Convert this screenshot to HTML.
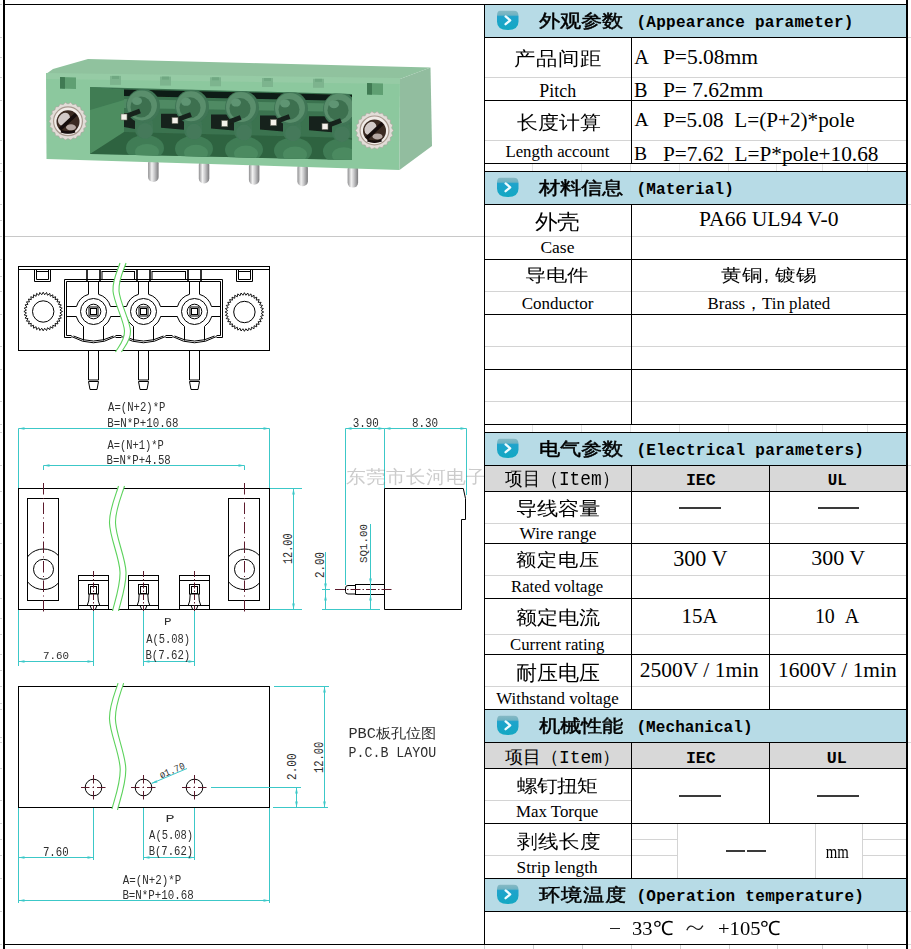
<!DOCTYPE html>
<html><head><meta charset="utf-8"><title>Terminal block spec</title>
<style>
html,body{margin:0;padding:0;background:#fff;}
body{width:911px;height:949px;position:relative;overflow:hidden;font-family:"Liberation Sans",sans-serif;}
</style></head><body>
<svg style="position:absolute;left:0;top:0" width="484" height="236" viewBox="0 0 484 236"><defs><linearGradient id="pg" x1="0" y1="0" x2="1" y2="0">
<stop offset="0" stop-color="#8e8e90"/><stop offset="0.35" stop-color="#f2f2f2"/><stop offset="0.6" stop-color="#c8c8ca"/><stop offset="1" stop-color="#7a7a7c"/></linearGradient>
<clipPath id="rc"><polygon points="90,87 352,94 352,160 90,154"/></clipPath>
<filter id="soft" x="-5%" y="-5%" width="110%" height="110%"><feGaussianBlur stdDeviation="0.7"/></filter></defs><g filter="url(#soft)"><rect x="148.1" y="158.3" width="10.5" height="23.7" rx="5" fill="url(#pg)"/>
<rect x="198.8" y="159.9" width="10.5" height="23.5" rx="5" fill="url(#pg)"/>
<rect x="248.9" y="161.5" width="10.5" height="23.3" rx="5" fill="url(#pg)"/>
<rect x="297.4" y="163.0" width="10.5" height="23.2" rx="5" fill="url(#pg)"/>
<rect x="347.6" y="164.5" width="10.5" height="23.1" rx="5" fill="url(#pg)"/>
<polygon points="46.0,74.0 53.0,69.0 88.0,59.0 430.5,67.5 400.0,79.0" fill="#90c29e"/>
<polygon points="46.0,74.0 400.0,79.0 399.5,170.0 46.5,159.0" fill="#8cc89e"/>
<polygon points="400.0,79.0 430.5,67.5 432.0,146.0 399.5,170.0" fill="#92bd9f"/>
<polygon points="46.0,73.0 400.0,78.0 400.0,84.0 46.0,79.0" fill="#96cba5"/>
<polygon points="60.0,77.0 76.0,77.5 76.0,89.0 60.0,88.5" fill="#5e9f72"/>
<polygon points="60.0,77.0 65.0,77.2 65.0,88.7 60.0,88.5" fill="#3f7a52"/>
<polygon points="367.0,83.0 383.0,83.5 383.0,95.0 367.0,94.5" fill="#5e9f72"/>
<polygon points="367.0,83.0 372.0,83.2 372.0,94.7 367.0,94.5" fill="#3f7a52"/>
<polygon points="110.0,75.9 121.0,75.9 121.0,84.9 110.0,84.9" fill="#7db48e"/>
<polygon points="112.0,75.9 119.0,75.9 119.0,78.9 112.0,78.9" fill="#6fa882"/>
<polygon points="160.0,76.6 171.0,76.6 171.0,85.6 160.0,85.6" fill="#7db48e"/>
<polygon points="162.0,76.6 169.0,76.6 169.0,79.6 162.0,79.6" fill="#6fa882"/>
<polygon points="210.0,77.3 221.0,77.3 221.0,86.3 210.0,86.3" fill="#7db48e"/>
<polygon points="212.0,77.3 219.0,77.3 219.0,80.3 212.0,80.3" fill="#6fa882"/>
<polygon points="262.0,78.0 273.0,78.0 273.0,87.0 262.0,87.0" fill="#7db48e"/>
<polygon points="264.0,78.0 271.0,78.0 271.0,81.0 264.0,81.0" fill="#6fa882"/>
<polygon points="313.0,78.8 324.0,78.8 324.0,87.8 313.0,87.8" fill="#7db48e"/>
<polygon points="315.0,78.8 322.0,78.8 322.0,81.8 315.0,81.8" fill="#6fa882"/>
<polygon points="90.0,87.0 352.0,94.0 352.0,160.0 90.0,154.0" fill="#3a7350"/>
<g clip-path="url(#rc)">
<polygon points="90.0,87.0 124.0,90.0 124.0,134.0 90.0,154.0" fill="#4d8d60"/>
<polygon points="90.0,87.0 124.0,90.0 124.0,100.0 90.0,110.0" fill="#3f7c53"/>
<polygon points="124.0,89.5 352.0,95.0 352.0,101.0 124.0,96.0" fill="#0f1a12"/>
<polygon points="124.0,99.0 352.0,104.0 352.0,112.0 124.0,108.0" fill="#4f8a63"/>
<polygon points="124.0,113.0 135.0,113.0 135.0,129.0 124.0,127.0" fill="#14231a"/>
<polygon points="161.0,113.8 184.0,113.8 184.0,129.8 161.0,127.8" fill="#14231a"/>
<polygon points="211.0,114.6 234.0,114.6 234.0,130.6 211.0,128.6" fill="#14231a"/>
<polygon points="260.0,115.4 283.0,115.4 283.0,131.4 260.0,129.4" fill="#14231a"/>
<polygon points="309.0,116.2 332.0,116.2 332.0,132.2 309.0,130.2" fill="#14231a"/>
<path d="M90 154 L124 132 L352 138 L352 160 Z" fill="#2f6340"/>
<ellipse cx="145.0" cy="148.0" rx="19" ry="13" fill="#3f7c55"/>
<ellipse cx="147.0" cy="152.0" rx="12" ry="8" fill="#4b8a60"/>
<ellipse cx="194.0" cy="148.8" rx="19" ry="13" fill="#3f7c55"/>
<ellipse cx="196.0" cy="152.8" rx="12" ry="8" fill="#4b8a60"/>
<ellipse cx="244.0" cy="149.6" rx="19" ry="13" fill="#3f7c55"/>
<ellipse cx="246.0" cy="153.6" rx="12" ry="8" fill="#4b8a60"/>
<ellipse cx="293.0" cy="150.4" rx="19" ry="13" fill="#3f7c55"/>
<ellipse cx="295.0" cy="154.4" rx="12" ry="8" fill="#4b8a60"/>
<ellipse cx="342.0" cy="151.2" rx="19" ry="13" fill="#3f7c55"/>
<ellipse cx="344.0" cy="155.2" rx="12" ry="8" fill="#4b8a60"/>
<rect x="135.0" y="116.0" width="18" height="22" rx="8" fill="#3f7654"/>
<ellipse cx="143.0" cy="106.0" rx="17" ry="17" fill="#3f7455"/>
<ellipse cx="142.0" cy="105.5" rx="15" ry="15" fill="#5a8e6c"/>
<ellipse cx="141.0" cy="107.0" rx="10.5" ry="10.5" fill="#3c6f50"/>
<ellipse cx="137.0" cy="101.0" rx="5" ry="4" fill="#5f9573"/>
<ellipse cx="145.0" cy="131.0" rx="8" ry="8" fill="#44795a"/>
<rect x="184.0" y="116.8" width="18" height="22" rx="8" fill="#3f7654"/>
<ellipse cx="192.0" cy="106.8" rx="17" ry="17" fill="#3f7455"/>
<ellipse cx="191.0" cy="106.3" rx="15" ry="15" fill="#5a8e6c"/>
<ellipse cx="190.0" cy="107.8" rx="10.5" ry="10.5" fill="#3c6f50"/>
<ellipse cx="186.0" cy="101.8" rx="5" ry="4" fill="#5f9573"/>
<ellipse cx="194.0" cy="131.8" rx="8" ry="8" fill="#44795a"/>
<rect x="234.0" y="117.6" width="18" height="22" rx="8" fill="#3f7654"/>
<ellipse cx="242.0" cy="107.6" rx="17" ry="17" fill="#3f7455"/>
<ellipse cx="241.0" cy="107.1" rx="15" ry="15" fill="#5a8e6c"/>
<ellipse cx="240.0" cy="108.6" rx="10.5" ry="10.5" fill="#3c6f50"/>
<ellipse cx="236.0" cy="102.6" rx="5" ry="4" fill="#5f9573"/>
<ellipse cx="244.0" cy="132.6" rx="8" ry="8" fill="#44795a"/>
<rect x="283.0" y="118.4" width="18" height="22" rx="8" fill="#3f7654"/>
<ellipse cx="291.0" cy="108.4" rx="17" ry="17" fill="#3f7455"/>
<ellipse cx="290.0" cy="107.9" rx="15" ry="15" fill="#5a8e6c"/>
<ellipse cx="289.0" cy="109.4" rx="10.5" ry="10.5" fill="#3c6f50"/>
<ellipse cx="285.0" cy="103.4" rx="5" ry="4" fill="#5f9573"/>
<ellipse cx="293.0" cy="133.4" rx="8" ry="8" fill="#44795a"/>
<rect x="332.0" y="119.2" width="18" height="22" rx="8" fill="#3f7654"/>
<ellipse cx="340.0" cy="109.2" rx="17" ry="17" fill="#3f7455"/>
<ellipse cx="339.0" cy="108.7" rx="15" ry="15" fill="#5a8e6c"/>
<ellipse cx="338.0" cy="110.2" rx="10.5" ry="10.5" fill="#3c6f50"/>
<ellipse cx="334.0" cy="104.2" rx="5" ry="4" fill="#5f9573"/>
<ellipse cx="342.0" cy="134.2" rx="8" ry="8" fill="#44795a"/>
<line x1="124.0" y1="117.0" x2="140.0" y2="111.0" stroke="#16221a" stroke-width="5"/>
<rect x="121.0" y="114.0" width="6" height="6" fill="#f4f1ea" stroke="#6b6b60" stroke-width="0.6"/>
<line x1="175.0" y1="120.5" x2="191.0" y2="114.5" stroke="#16221a" stroke-width="5"/>
<rect x="172.0" y="117.5" width="6" height="6" fill="#f4f1ea" stroke="#6b6b60" stroke-width="0.6"/>
<line x1="224.7" y1="123.5" x2="240.7" y2="117.5" stroke="#16221a" stroke-width="5"/>
<rect x="221.7" y="120.5" width="6" height="6" fill="#f4f1ea" stroke="#6b6b60" stroke-width="0.6"/>
<line x1="273.5" y1="122.5" x2="289.5" y2="116.5" stroke="#16221a" stroke-width="5"/>
<rect x="270.5" y="119.5" width="6" height="6" fill="#f4f1ea" stroke="#6b6b60" stroke-width="0.6"/>
<line x1="325.0" y1="126.5" x2="341.0" y2="120.5" stroke="#16221a" stroke-width="5"/>
<rect x="322.0" y="123.5" width="6" height="6" fill="#f4f1ea" stroke="#6b6b60" stroke-width="0.6"/>
</g>
<polygon points="87.0,121.3 85.1,123.8 86.2,126.7 83.7,128.5 84.0,131.6 81.1,132.6 80.4,135.7 77.4,135.9 75.9,138.6 72.9,137.9 70.7,140.1 68.0,138.6 65.3,140.1 63.1,137.9 60.1,138.6 58.6,135.9 55.6,135.7 54.9,132.6 52.0,131.6 52.3,128.5 49.8,126.7 50.9,123.8 49.0,121.3 50.9,118.8 49.8,115.9 52.3,114.1 52.0,111.0 54.9,110.0 55.6,106.9 58.6,106.7 60.1,104.0 63.1,104.7 65.3,102.5 68.0,104.0 70.7,102.5 72.9,104.7 75.9,104.0 77.4,106.7 80.4,106.9 81.1,110.0 84.0,111.0 83.7,114.1 86.2,115.9 85.1,118.8" fill="#e2ddd8" stroke="#a9a39c" stroke-width="0.6"/>
<circle cx="68.0" cy="121.3" r="15" fill="#a8998f"/>
<circle cx="68.0" cy="121.3" r="13.8" fill="#f1ece8"/>
<circle cx="68.0" cy="121.8" r="11.5" fill="#3b2b22"/>
<ellipse cx="64.0" cy="119.3" rx="5.5" ry="7" fill="#d2cac8" transform="rotate(35 64.0 119.3)"/>
<ellipse cx="71.0" cy="127.3" rx="5" ry="3" fill="#b5a7a2"/>
<line x1="60.0" y1="129.3" x2="76.0" y2="114.3" stroke="#150d09" stroke-width="3.5"/>
<path d="M61.0 131.3 Q68.0 133.8 75.0 131.3" stroke="#120a08" stroke-width="2.5" fill="none"/>
<polygon points="393.5,130.4 391.6,132.9 392.7,135.8 390.2,137.6 390.5,140.7 387.6,141.7 386.9,144.8 383.9,145.0 382.4,147.7 379.4,147.0 377.2,149.2 374.5,147.7 371.8,149.2 369.6,147.0 366.6,147.7 365.1,145.0 362.1,144.8 361.4,141.7 358.5,140.7 358.8,137.6 356.3,135.8 357.4,132.9 355.5,130.4 357.4,127.9 356.3,125.0 358.8,123.2 358.5,120.1 361.4,119.1 362.1,116.0 365.1,115.8 366.6,113.1 369.6,113.8 371.8,111.6 374.5,113.1 377.2,111.6 379.4,113.8 382.4,113.1 383.9,115.8 386.9,116.0 387.6,119.1 390.5,120.1 390.2,123.2 392.7,125.0 391.6,127.9" fill="#e2ddd8" stroke="#a9a39c" stroke-width="0.6"/>
<circle cx="374.5" cy="130.4" r="15" fill="#a8998f"/>
<circle cx="374.5" cy="130.4" r="13.8" fill="#f1ece8"/>
<circle cx="374.5" cy="130.9" r="11.5" fill="#3b2b22"/>
<ellipse cx="370.5" cy="128.4" rx="5.5" ry="7" fill="#d2cac8" transform="rotate(35 370.5 128.4)"/>
<ellipse cx="377.5" cy="136.4" rx="5" ry="3" fill="#b5a7a2"/>
<line x1="366.5" y1="138.4" x2="382.5" y2="123.4" stroke="#150d09" stroke-width="3.5"/>
<path d="M367.5 140.4 Q374.5 142.9 381.5 140.4" stroke="#120a08" stroke-width="2.5" fill="none"/></g></svg><svg style="position:absolute;left:0;top:0" width="484" height="949" viewBox="0 0 484 949">
<rect x="18.5" y="266.5" width="251" height="84" stroke="#000" stroke-width="1" fill="none"/>
<line x1="18.5" y1="269.5" x2="269.5" y2="269.5" stroke="#000" stroke-width="1"/>
<path d="M34.5 269.5 V281.5 H50.5 V269.5" stroke="#000" stroke-width="1" fill="none"/>
<path d="M36.5 269.5 V279.5 H48.5 V269.5" stroke="#000" stroke-width="1" fill="none"/>
<line x1="36.5" y1="271.5" x2="48.5" y2="271.5" stroke="#000" stroke-width="1"/>
<path d="M236.5 269.5 V281.5 H252.5 V269.5" stroke="#000" stroke-width="1" fill="none"/>
<path d="M238.5 269.5 V279.5 H250.5 V269.5" stroke="#000" stroke-width="1" fill="none"/>
<line x1="238.5" y1="271.5" x2="250.5" y2="271.5" stroke="#000" stroke-width="1"/>
<path d="M64.5 337.5 V279.5 H222.5 V337.5" stroke="#000" stroke-width="1" fill="none"/>
<path d="M66.5 335.5 V281.5 H220.5 V335.5" stroke="#000" stroke-width="1" fill="none"/>
<line x1="64.5" y1="337.5" x2="71.5" y2="337.5" stroke="#000" stroke-width="1"/>
<line x1="66.5" y1="335.5" x2="71.5" y2="335.5" stroke="#000" stroke-width="1"/>
<line x1="115.5" y1="337.5" x2="121.5" y2="337.5" stroke="#000" stroke-width="1"/>
<line x1="115.5" y1="335.5" x2="121.5" y2="335.5" stroke="#000" stroke-width="1"/>
<line x1="165.5" y1="337.5" x2="172.5" y2="337.5" stroke="#000" stroke-width="1"/>
<line x1="165.5" y1="335.5" x2="172.5" y2="335.5" stroke="#000" stroke-width="1"/>
<line x1="216.5" y1="337.5" x2="222.5" y2="337.5" stroke="#000" stroke-width="1"/>
<line x1="216.5" y1="335.5" x2="220.5" y2="335.5" stroke="#000" stroke-width="1"/>
<rect x="102.0" y="271.5" width="32.5" height="8" stroke="#000" stroke-width="1" fill="none"/>
<rect x="152.0" y="271.5" width="33.5" height="8" stroke="#000" stroke-width="1" fill="none"/>
<line x1="87.0" y1="269.5" x2="87.0" y2="281" stroke="#000" stroke-width="1.6"/>
<line x1="100.0" y1="269.5" x2="100.0" y2="281" stroke="#000" stroke-width="1.6"/>
<line x1="88.5" y1="282" x2="88.5" y2="294.3" stroke="#000" stroke-width="1"/>
<line x1="98.5" y1="282" x2="98.5" y2="294.3" stroke="#000" stroke-width="1"/>
<path d="M88.50 294.3 A18 18 0 0 0 76.50 306.5" stroke="#000" stroke-width="1" fill="none"/>
<path d="M98.50 294.3 A18 18 0 0 1 110.50 306.5" stroke="#000" stroke-width="1" fill="none"/>
<path d="M76.20 316.5 A18 18 0 0 0 83.50 326.4" stroke="#000" stroke-width="1" fill="none"/>
<path d="M110.80 316.5 A18 18 0 0 1 103.50 326.4" stroke="#000" stroke-width="1" fill="none"/>
<line x1="83.5" y1="326.4" x2="83.5" y2="340.5" stroke="#000" stroke-width="1"/>
<line x1="103.5" y1="326.4" x2="103.5" y2="340.5" stroke="#000" stroke-width="1"/>
<circle cx="93.5" cy="311.5" r="13" stroke="#000" stroke-width="1" fill="none"/>
<circle cx="93.5" cy="311.5" r="7.3" stroke="#000" stroke-width="1" fill="none"/>
<rect x="89.0" y="307.0" width="9" height="9" stroke="#000" stroke-width="1" fill="none"/>
<rect x="90.5" y="308.5" width="6" height="6" stroke="#000" stroke-width="1" fill="none"/>
<path d="M73.50 336 Q93.50 346 113.50 336" stroke="#000" stroke-width="1" fill="none"/>
<path d="M71.50 336.5 Q93.50 349 115.50 336.5" stroke="#000" stroke-width="1" fill="none"/>
<line x1="137.0" y1="269.5" x2="137.0" y2="281" stroke="#000" stroke-width="1.6"/>
<line x1="150.0" y1="269.5" x2="150.0" y2="281" stroke="#000" stroke-width="1.6"/>
<line x1="138.5" y1="282" x2="138.5" y2="294.3" stroke="#000" stroke-width="1"/>
<line x1="148.5" y1="282" x2="148.5" y2="294.3" stroke="#000" stroke-width="1"/>
<path d="M138.50 294.3 A18 18 0 0 0 126.50 306.5" stroke="#000" stroke-width="1" fill="none"/>
<path d="M148.50 294.3 A18 18 0 0 1 160.50 306.5" stroke="#000" stroke-width="1" fill="none"/>
<path d="M126.20 316.5 A18 18 0 0 0 133.50 326.4" stroke="#000" stroke-width="1" fill="none"/>
<path d="M160.80 316.5 A18 18 0 0 1 153.50 326.4" stroke="#000" stroke-width="1" fill="none"/>
<line x1="133.5" y1="326.4" x2="133.5" y2="340.5" stroke="#000" stroke-width="1"/>
<line x1="153.5" y1="326.4" x2="153.5" y2="340.5" stroke="#000" stroke-width="1"/>
<circle cx="143.5" cy="311.5" r="13" stroke="#000" stroke-width="1" fill="none"/>
<circle cx="143.5" cy="311.5" r="7.3" stroke="#000" stroke-width="1" fill="none"/>
<rect x="139.0" y="307.0" width="9" height="9" stroke="#000" stroke-width="1" fill="none"/>
<rect x="140.5" y="308.5" width="6" height="6" stroke="#000" stroke-width="1" fill="none"/>
<path d="M123.50 336 Q143.50 346 163.50 336" stroke="#000" stroke-width="1" fill="none"/>
<path d="M121.50 336.5 Q143.50 349 165.50 336.5" stroke="#000" stroke-width="1" fill="none"/>
<line x1="188.0" y1="269.5" x2="188.0" y2="281" stroke="#000" stroke-width="1.6"/>
<line x1="201.0" y1="269.5" x2="201.0" y2="281" stroke="#000" stroke-width="1.6"/>
<line x1="189.5" y1="282" x2="189.5" y2="294.3" stroke="#000" stroke-width="1"/>
<line x1="199.5" y1="282" x2="199.5" y2="294.3" stroke="#000" stroke-width="1"/>
<path d="M189.50 294.3 A18 18 0 0 0 177.50 306.5" stroke="#000" stroke-width="1" fill="none"/>
<path d="M199.50 294.3 A18 18 0 0 1 211.50 306.5" stroke="#000" stroke-width="1" fill="none"/>
<path d="M177.20 316.5 A18 18 0 0 0 184.50 326.4" stroke="#000" stroke-width="1" fill="none"/>
<path d="M211.80 316.5 A18 18 0 0 1 204.50 326.4" stroke="#000" stroke-width="1" fill="none"/>
<line x1="184.5" y1="326.4" x2="184.5" y2="340.5" stroke="#000" stroke-width="1"/>
<line x1="204.5" y1="326.4" x2="204.5" y2="340.5" stroke="#000" stroke-width="1"/>
<circle cx="194.5" cy="311.5" r="13" stroke="#000" stroke-width="1" fill="none"/>
<circle cx="194.5" cy="311.5" r="7.3" stroke="#000" stroke-width="1" fill="none"/>
<rect x="190.0" y="307.0" width="9" height="9" stroke="#000" stroke-width="1" fill="none"/>
<rect x="191.5" y="308.5" width="6" height="6" stroke="#000" stroke-width="1" fill="none"/>
<path d="M174.50 336 Q194.50 346 214.50 336" stroke="#000" stroke-width="1" fill="none"/>
<path d="M172.50 336.5 Q194.50 349 216.50 336.5" stroke="#000" stroke-width="1" fill="none"/>
<line x1="66.5" y1="306.5" x2="76.5" y2="306.5" stroke="#000" stroke-width="1"/>
<line x1="66.5" y1="316.5" x2="76.5" y2="316.5" stroke="#000" stroke-width="1"/>
<line x1="110.5" y1="306.5" x2="126.5" y2="306.5" stroke="#000" stroke-width="1"/>
<line x1="110.5" y1="316.5" x2="126.5" y2="316.5" stroke="#000" stroke-width="1"/>
<line x1="160.5" y1="306.5" x2="177.5" y2="306.5" stroke="#000" stroke-width="1"/>
<line x1="160.5" y1="316.5" x2="177.5" y2="316.5" stroke="#000" stroke-width="1"/>
<line x1="211.5" y1="306.5" x2="220.5" y2="306.5" stroke="#000" stroke-width="1"/>
<line x1="211.5" y1="316.5" x2="220.5" y2="316.5" stroke="#000" stroke-width="1"/>
<polygon points="62.50,311.50 59.94,312.96 62.21,314.85 59.43,315.85 61.34,318.10 58.43,318.60 59.91,321.15 56.96,321.14 57.98,323.91 55.08,323.38 55.61,326.28 52.84,325.26 52.85,328.21 50.30,326.73 49.80,329.64 47.55,327.73 46.55,330.51 44.66,328.24 43.20,330.80 41.74,328.24 39.85,330.51 38.85,327.73 36.60,329.64 36.10,326.73 33.55,328.21 33.56,325.26 30.79,326.28 31.32,323.38 28.42,323.91 29.44,321.14 26.49,321.15 27.97,318.60 25.06,318.10 26.97,315.85 24.19,314.85 26.46,312.96 23.90,311.50 26.46,310.04 24.19,308.15 26.97,307.15 25.06,304.90 27.97,304.40 26.49,301.85 29.44,301.86 28.42,299.09 31.32,299.62 30.79,296.72 33.56,297.74 33.55,294.79 36.10,296.27 36.60,293.36 38.85,295.27 39.85,292.49 41.74,294.76 43.20,292.20 44.66,294.76 46.55,292.49 47.55,295.27 49.80,293.36 50.30,296.27 52.85,294.79 52.84,297.74 55.61,296.72 55.08,299.62 57.98,299.09 56.96,301.86 59.91,301.85 58.43,304.40 61.34,304.90 59.43,307.15 62.21,308.15 59.94,310.04" fill="none" stroke="#000" stroke-width="0.9"/>
<circle cx="43.2" cy="311.5" r="10.7" stroke="#000" stroke-width="1" fill="none"/>
<polygon points="263.70,312.00 261.14,313.46 263.41,315.35 260.63,316.35 262.54,318.60 259.63,319.10 261.11,321.65 258.16,321.64 259.18,324.41 256.28,323.88 256.81,326.78 254.04,325.76 254.05,328.71 251.50,327.23 251.00,330.14 248.75,328.23 247.75,331.01 245.86,328.74 244.40,331.30 242.94,328.74 241.05,331.01 240.05,328.23 237.80,330.14 237.30,327.23 234.75,328.71 234.76,325.76 231.99,326.78 232.52,323.88 229.62,324.41 230.64,321.64 227.69,321.65 229.17,319.10 226.26,318.60 228.17,316.35 225.39,315.35 227.66,313.46 225.10,312.00 227.66,310.54 225.39,308.65 228.17,307.65 226.26,305.40 229.17,304.90 227.69,302.35 230.64,302.36 229.62,299.59 232.52,300.12 231.99,297.22 234.76,298.24 234.75,295.29 237.30,296.77 237.80,293.86 240.05,295.77 241.05,292.99 242.94,295.26 244.40,292.70 245.86,295.26 247.75,292.99 248.75,295.77 251.00,293.86 251.50,296.77 254.05,295.29 254.04,298.24 256.81,297.22 256.28,300.12 259.18,299.59 258.16,302.36 261.11,302.35 259.63,304.90 262.54,305.40 260.63,307.65 263.41,308.65 261.14,310.54" fill="none" stroke="#000" stroke-width="0.9"/>
<circle cx="244.4" cy="312" r="10.7" stroke="#000" stroke-width="1" fill="none"/>
<path d="M88.5 350.5 V380 H98.5 V350.5" stroke="#000" stroke-width="1" fill="none"/>
<path d="M88.5 381.5 L90.0 389.5 H97.0 L98.5 381.5 Z" stroke="#000" stroke-width="1" fill="none"/>
<path d="M138.5 350.5 V380 H148.5 V350.5" stroke="#000" stroke-width="1" fill="none"/>
<path d="M138.5 381.5 L140.0 389.5 H147.0 L148.5 381.5 Z" stroke="#000" stroke-width="1" fill="none"/>
<path d="M189.5 350.5 V380 H199.5 V350.5" stroke="#000" stroke-width="1" fill="none"/>
<path d="M189.5 381.5 L191.0 389.5 H198.0 L199.5 381.5 Z" stroke="#000" stroke-width="1" fill="none"/>
<line x1="18.5" y1="428.5" x2="269.5" y2="428.5" stroke="#3cc8c8" stroke-width="1"/>
<polygon points="18.5,428.5 24.5,427.2 24.5,429.8" fill="#3cc8c8"/>
<polygon points="269.5,428.5 263.5,427.2 263.5,429.8" fill="#3cc8c8"/>
<line x1="18.5" y1="428.5" x2="18.5" y2="488" stroke="#3cc8c8" stroke-width="1"/>
<line x1="269.5" y1="428.5" x2="269.5" y2="488" stroke="#3cc8c8" stroke-width="1"/>
<line x1="43.5" y1="465.5" x2="244.5" y2="465.5" stroke="#3cc8c8" stroke-width="1"/>
<polygon points="43.5,465.5 49.5,464.2 49.5,466.8" fill="#3cc8c8"/>
<polygon points="244.5,465.5 238.5,464.2 238.5,466.8" fill="#3cc8c8"/>
<line x1="43.5" y1="465.5" x2="43.5" y2="470" stroke="#3cc8c8" stroke-width="1"/>
<line x1="244.5" y1="465.5" x2="244.5" y2="470" stroke="#3cc8c8" stroke-width="1"/>
<rect x="18.5" y="488.5" width="251" height="121" stroke="#000" stroke-width="1" fill="none"/>
<rect x="27.5" y="498.5" width="31" height="102" stroke="#000" stroke-width="1" fill="none"/>
<clipPath id="cl27"><rect x="27.5" y="498" width="31" height="103"/></clipPath>
<circle cx="43.5" cy="569.3" r="20.3" fill="none" stroke="#000" clip-path="url(#cl27)"/>
<circle cx="43.5" cy="569.3" r="10" stroke="#000" stroke-width="1" fill="none"/>
<rect x="228.5" y="498.5" width="31" height="102" stroke="#000" stroke-width="1" fill="none"/>
<clipPath id="cl228"><rect x="228.5" y="498" width="31" height="103"/></clipPath>
<circle cx="244.5" cy="569.3" r="20.3" fill="none" stroke="#000" clip-path="url(#cl228)"/>
<circle cx="244.5" cy="569.3" r="10" stroke="#000" stroke-width="1" fill="none"/>
<rect x="78.5" y="575.5" width="30" height="34" stroke="#000" stroke-width="1" fill="none"/>
<line x1="78.5" y1="580.5" x2="108.5" y2="580.5" stroke="#000" stroke-width="1"/>
<line x1="78.5" y1="605.5" x2="108.5" y2="605.5" stroke="#000" stroke-width="1"/>
<rect x="88.5" y="584.5" width="10" height="9.5" stroke="#000" stroke-width="1" fill="none"/>
<rect x="90.5" y="586.5" width="6" height="7" stroke="#000" stroke-width="1" fill="none"/>
<path d="M89.2 594 L88.7 601 L87.2 605.5" stroke="#000" stroke-width="1" fill="none"/>
<path d="M97.8 594 L98.3 601 L99.8 605.5" stroke="#000" stroke-width="1" fill="none"/>
<path d="M90.0 605.5 L91.5 609 M97.0 605.5 L95.5 609" stroke="#000" stroke-width="1" fill="none"/>
<rect x="128.5" y="575.5" width="30" height="34" stroke="#000" stroke-width="1" fill="none"/>
<line x1="128.5" y1="580.5" x2="158.5" y2="580.5" stroke="#000" stroke-width="1"/>
<line x1="128.5" y1="605.5" x2="158.5" y2="605.5" stroke="#000" stroke-width="1"/>
<rect x="138.5" y="584.5" width="10" height="9.5" stroke="#000" stroke-width="1" fill="none"/>
<rect x="140.5" y="586.5" width="6" height="7" stroke="#000" stroke-width="1" fill="none"/>
<path d="M139.2 594 L138.7 601 L137.2 605.5" stroke="#000" stroke-width="1" fill="none"/>
<path d="M147.8 594 L148.3 601 L149.8 605.5" stroke="#000" stroke-width="1" fill="none"/>
<path d="M140.0 605.5 L141.5 609 M147.0 605.5 L145.5 609" stroke="#000" stroke-width="1" fill="none"/>
<rect x="179.5" y="575.5" width="30" height="34" stroke="#000" stroke-width="1" fill="none"/>
<line x1="179.5" y1="580.5" x2="209.5" y2="580.5" stroke="#000" stroke-width="1"/>
<line x1="179.5" y1="605.5" x2="209.5" y2="605.5" stroke="#000" stroke-width="1"/>
<rect x="189.5" y="584.5" width="10" height="9.5" stroke="#000" stroke-width="1" fill="none"/>
<rect x="191.5" y="586.5" width="6" height="7" stroke="#000" stroke-width="1" fill="none"/>
<path d="M190.2 594 L189.7 601 L188.2 605.5" stroke="#000" stroke-width="1" fill="none"/>
<path d="M198.8 594 L199.3 601 L200.8 605.5" stroke="#000" stroke-width="1" fill="none"/>
<path d="M191.0 605.5 L192.5 609 M198.0 605.5 L196.5 609" stroke="#000" stroke-width="1" fill="none"/>
<line x1="43.5" y1="483" x2="43.5" y2="615" stroke="#5c1a2c" stroke-width="1" stroke-dasharray="11.5 3.5 1 3.5"/>
<line x1="244.5" y1="483" x2="244.5" y2="615" stroke="#5c1a2c" stroke-width="1" stroke-dasharray="11.5 3.5 1 3.5"/>
<line x1="93.5" y1="571" x2="93.5" y2="615" stroke="#5c1a2c" stroke-width="1" stroke-dasharray="6 2 1.5 2"/>
<line x1="143.5" y1="571" x2="143.5" y2="615" stroke="#5c1a2c" stroke-width="1" stroke-dasharray="6 2 1.5 2"/>
<line x1="194.5" y1="571" x2="194.5" y2="615" stroke="#5c1a2c" stroke-width="1" stroke-dasharray="6 2 1.5 2"/>
<line x1="293.5" y1="488.5" x2="293.5" y2="609.5" stroke="#3cc8c8" stroke-width="1"/>
<polygon points="293.5,488.5 292.2,494.5 294.8,494.5" fill="#3cc8c8"/>
<polygon points="293.5,609.5 292.2,603.5 294.8,603.5" fill="#3cc8c8"/>
<line x1="270" y1="488.5" x2="302" y2="488.5" stroke="#3cc8c8" stroke-width="1"/>
<line x1="270" y1="609.5" x2="302" y2="609.5" stroke="#3cc8c8" stroke-width="1"/>
<line x1="18.5" y1="661.5" x2="93.5" y2="661.5" stroke="#3cc8c8" stroke-width="1"/>
<polygon points="18.5,661.5 24.5,660.2 24.5,662.8" fill="#3cc8c8"/>
<polygon points="93.5,661.5 87.5,660.2 87.5,662.8" fill="#3cc8c8"/>
<line x1="18.5" y1="610" x2="18.5" y2="666" stroke="#3cc8c8" stroke-width="1"/>
<line x1="93.5" y1="611" x2="93.5" y2="666" stroke="#3cc8c8" stroke-width="1"/>
<line x1="143.5" y1="661.5" x2="194.5" y2="661.5" stroke="#3cc8c8" stroke-width="1"/>
<polygon points="143.5,661.5 149.5,660.2 149.5,662.8" fill="#3cc8c8"/>
<polygon points="194.5,661.5 188.5,660.2 188.5,662.8" fill="#3cc8c8"/>
<line x1="143.5" y1="611" x2="143.5" y2="666" stroke="#3cc8c8" stroke-width="1"/>
<line x1="194.5" y1="611" x2="194.5" y2="666" stroke="#3cc8c8" stroke-width="1"/>
<path d="M384.5 609.5 V488.5 H463.3 L465.5 498.5 V519.5 H461.5 V609.5 Z" stroke="#000" stroke-width="1" fill="none"/>
<rect x="355.5" y="584.5" width="29" height="10" stroke="#000" stroke-width="1" fill="none"/>
<path d="M355.7 585.5 H348 Q345.5 585.5 345.5 588 V591.5 Q345.5 594 348 594 H355.7" stroke="#000" stroke-width="1" fill="none"/>
<line x1="335" y1="589.5" x2="393" y2="589.5" stroke="#5c1a2c" stroke-width="1" stroke-dasharray="10 2 1.5 2"/>
<line x1="345.5" y1="428.5" x2="384.5" y2="428.5" stroke="#3cc8c8" stroke-width="1"/>
<polygon points="345.5,428.5 351.5,427.2 351.5,429.8" fill="#3cc8c8"/>
<polygon points="384.5,428.5 378.5,427.2 378.5,429.8" fill="#3cc8c8"/>
<line x1="384.5" y1="428.5" x2="466.5" y2="428.5" stroke="#3cc8c8" stroke-width="1"/>
<polygon points="384.5,428.5 390.5,427.2 390.5,429.8" fill="#3cc8c8"/>
<polygon points="466.5,428.5 460.5,427.2 460.5,429.8" fill="#3cc8c8"/>
<line x1="345.5" y1="428.5" x2="345.5" y2="585" stroke="#3cc8c8" stroke-width="1"/>
<line x1="384.5" y1="428.5" x2="384.5" y2="488" stroke="#3cc8c8" stroke-width="1"/>
<line x1="466.5" y1="428.5" x2="466.5" y2="495" stroke="#3cc8c8" stroke-width="1"/>
<line x1="325.5" y1="552" x2="325.5" y2="609.5" stroke="#3cc8c8" stroke-width="1"/>
<polygon points="325.5,589.5 324.2,583.5 326.8,583.5" fill="#3cc8c8"/>
<polygon points="325.5,594.5 324.2,600.5 326.8,600.5" fill="#3cc8c8"/>
<line x1="322" y1="589.5" x2="330" y2="589.5" stroke="#3cc8c8" stroke-width="1"/>
<line x1="322" y1="609.5" x2="380" y2="609.5" stroke="#3cc8c8" stroke-width="1"/>
<line x1="370.5" y1="524" x2="370.5" y2="609.5" stroke="#3cc8c8" stroke-width="1"/>
<polygon points="370.5,584.5 369.2,578.5 371.8,578.5" fill="#3cc8c8"/>
<polygon points="370.5,594.5 369.2,600.5 371.8,600.5" fill="#3cc8c8"/>
<rect x="18.5" y="686.5" width="251" height="121" stroke="#000" stroke-width="1" fill="none"/>
<circle cx="93.5" cy="787.5" r="8.3" stroke="#000" stroke-width="1" fill="none"/>
<line x1="81.0" y1="787.5" x2="106.0" y2="787.5" stroke="#5c1a2c" stroke-width="1" stroke-dasharray="8.5 3 1.5 3 8.5"/>
<line x1="93.5" y1="775" x2="93.5" y2="800" stroke="#5c1a2c" stroke-width="1" stroke-dasharray="8.5 3 1.5 3 8.5"/>
<circle cx="143.5" cy="787.5" r="8.3" stroke="#000" stroke-width="1" fill="none"/>
<line x1="131.0" y1="787.5" x2="156.0" y2="787.5" stroke="#5c1a2c" stroke-width="1" stroke-dasharray="8.5 3 1.5 3 8.5"/>
<line x1="143.5" y1="775" x2="143.5" y2="800" stroke="#5c1a2c" stroke-width="1" stroke-dasharray="8.5 3 1.5 3 8.5"/>
<circle cx="194.5" cy="787.5" r="8.3" stroke="#000" stroke-width="1" fill="none"/>
<line x1="182.0" y1="787.5" x2="207.0" y2="787.5" stroke="#5c1a2c" stroke-width="1" stroke-dasharray="8.5 3 1.5 3 8.5"/>
<line x1="194.5" y1="775" x2="194.5" y2="800" stroke="#5c1a2c" stroke-width="1" stroke-dasharray="8.5 3 1.5 3 8.5"/>
<line x1="151.7" y1="783.4" x2="187" y2="768.5" stroke="#3cc8c8" stroke-width="1"/>
<polygon points="151.2,783.6 156.5,780.2 157.5,782.6" fill="#3cc8c8"/>
<text transform="translate(161.2,778.6) rotate(-23)" font-family="Liberation Mono, monospace" font-size="10" fill="#2e2e2e" textLength="26.5" lengthAdjust="spacingAndGlyphs">&#248;1.70</text>
<line x1="211" y1="787.5" x2="301" y2="787.5" stroke="#3cc8c8" stroke-width="1"/>
<line x1="274" y1="686.5" x2="329" y2="686.5" stroke="#3cc8c8" stroke-width="1"/>
<line x1="273" y1="807.5" x2="328" y2="807.5" stroke="#3cc8c8" stroke-width="1"/>
<line x1="296.5" y1="787.5" x2="296.5" y2="807.5" stroke="#3cc8c8" stroke-width="1"/>
<polygon points="296.5,787.5 295.2,793.5 297.8,793.5" fill="#3cc8c8"/>
<polygon points="296.5,807.5 295.2,801.5 297.8,801.5" fill="#3cc8c8"/>
<line x1="324.5" y1="686.5" x2="324.5" y2="807.5" stroke="#3cc8c8" stroke-width="1"/>
<polygon points="324.5,686.5 323.2,692.5 325.8,692.5" fill="#3cc8c8"/>
<polygon points="324.5,807.5 323.2,801.5 325.8,801.5" fill="#3cc8c8"/>
<line x1="18.5" y1="857.5" x2="93.5" y2="857.5" stroke="#3cc8c8" stroke-width="1"/>
<polygon points="18.5,857.5 24.5,856.2 24.5,858.8" fill="#3cc8c8"/>
<polygon points="93.5,857.5 87.5,856.2 87.5,858.8" fill="#3cc8c8"/>
<line x1="18.5" y1="808" x2="18.5" y2="903" stroke="#3cc8c8" stroke-width="1"/>
<line x1="93.5" y1="808" x2="93.5" y2="860" stroke="#3cc8c8" stroke-width="1"/>
<line x1="143.5" y1="857.5" x2="194.5" y2="857.5" stroke="#3cc8c8" stroke-width="1"/>
<polygon points="143.5,857.5 149.5,856.2 149.5,858.8" fill="#3cc8c8"/>
<polygon points="194.5,857.5 188.5,856.2 188.5,858.8" fill="#3cc8c8"/>
<line x1="143.5" y1="808" x2="143.5" y2="860" stroke="#3cc8c8" stroke-width="1"/>
<line x1="194.5" y1="808" x2="194.5" y2="860" stroke="#3cc8c8" stroke-width="1"/>
<line x1="18.5" y1="900.5" x2="269.5" y2="900.5" stroke="#3cc8c8" stroke-width="1"/>
<polygon points="18.5,900.5 24.5,899.2 24.5,901.8" fill="#3cc8c8"/>
<polygon points="269.5,900.5 263.5,899.2 263.5,901.8" fill="#3cc8c8"/>
<line x1="269.5" y1="808" x2="269.5" y2="903" stroke="#3cc8c8" stroke-width="1"/>
<path d="M120.0 263.0 C118.8 267.7 112.2 279.7 113.0 291.0 C113.8 302.3 124.1 320.8 124.5 331.0 C124.9 341.2 117.0 348.5 115.5 352.0 L121.5 352.0 C123.0 348.5 130.9 341.2 130.5 331.0 C130.1 320.8 119.8 302.3 119.0 291.0 C118.2 279.7 124.8 267.7 126.0 263.0 Z" fill="#fff" stroke="none"/>
<path d="M120.0 263.0 C118.8 267.7 112.2 279.7 113.0 291.0 C113.8 302.3 124.1 320.8 124.5 331.0 C124.9 341.2 117.0 348.5 115.5 352.0" stroke="#5cd25c" stroke-width="1.1" fill="none"/>
<path d="M126.0 263.0 C124.8 267.7 118.2 279.7 119.0 291.0 C119.8 302.3 130.1 320.8 130.5 331.0 C130.9 341.2 123.0 348.5 121.5 352.0" stroke="#5cd25c" stroke-width="1.1" fill="none"/>
<path d="M118.5 486.0 C117.0 492.2 109.2 508.7 109.5 523.0 C109.8 537.3 119.5 557.3 120.0 572.0 C120.5 586.7 113.8 604.5 112.5 611.0 L118.5 611.0 C119.8 604.5 126.5 586.7 126.0 572.0 C125.5 557.3 115.8 537.3 115.5 523.0 C115.2 508.7 123.0 492.2 124.5 486.0 Z" fill="#fff" stroke="none"/>
<path d="M118.5 486.0 C117.0 492.2 109.2 508.7 109.5 523.0 C109.8 537.3 119.5 557.3 120.0 572.0 C120.5 586.7 113.8 604.5 112.5 611.0" stroke="#5cd25c" stroke-width="1.1" fill="none"/>
<path d="M124.5 486.0 C123.0 492.2 115.2 508.7 115.5 523.0 C115.8 537.3 125.5 557.3 126.0 572.0 C126.5 586.7 119.8 604.5 118.5 611.0" stroke="#5cd25c" stroke-width="1.1" fill="none"/>
<path d="M118.0 683.0 C116.6 689.0 109.1 704.7 109.5 719.0 C109.9 733.3 119.8 754.0 120.2 769.0 C120.6 784.0 113.4 802.3 112.0 809.0 L117.5 810.0 C118.9 803.2 126.1 784.2 125.8 769.0 C125.5 753.8 115.8 733.3 115.4 719.0 C115.0 704.7 122.2 689.0 123.6 683.0 Z" fill="#fff" stroke="none"/>
<path d="M118.0 683.0 C116.6 689.0 109.1 704.7 109.5 719.0 C109.9 733.3 119.8 754.0 120.2 769.0 C120.6 784.0 113.4 802.3 112.0 809.0" stroke="#5cd25c" stroke-width="1.1" fill="none"/>
<path d="M123.6 683.0 C122.2 689.0 115.0 704.7 115.4 719.0 C115.8 733.3 125.5 753.8 125.8 769.0 C126.1 784.2 118.9 803.2 117.5 810.0" stroke="#5cd25c" stroke-width="1.1" fill="none"/>
</svg>
<div style="position:absolute;white-space:nowrap;line-height:1.6;font-family:'Liberation Sans',sans-serif;font-size:19.51px;font-weight:normal;color:rgba(110,110,110,0.36);font-weight:300;transform:scale(1,0.9103);transform-origin:0 0;left:346.3px;top:462.7px">东莞市长河电子有</div>
<div style="position:absolute;left:485px;top:5px;width:421px;height:32px;background:#b7dbe6"></div>
<div style="position:absolute;left:485px;top:172px;width:421px;height:32px;background:#b7dbe6"></div>
<div style="position:absolute;left:485px;top:433px;width:421px;height:32px;background:#b7dbe6"></div>
<div style="position:absolute;left:485px;top:710px;width:421px;height:32px;background:#b7dbe6"></div>
<div style="position:absolute;left:485px;top:879px;width:421px;height:32px;background:#b7dbe6"></div>
<div style="position:absolute;left:485px;top:466px;width:421px;height:25px;background:#d8d8d8"></div>
<div style="position:absolute;left:485px;top:743px;width:421px;height:25px;background:#d8d8d8"></div>
<div style="position:absolute;left:485px;top:77px;width:421px;height:1px;background:#d4d4d4"></div>
<div style="position:absolute;left:485px;top:140px;width:421px;height:1px;background:#d4d4d4"></div>
<div style="position:absolute;left:485px;top:236px;width:421px;height:1px;background:#d4d4d4"></div>
<div style="position:absolute;left:485px;top:291px;width:421px;height:1px;background:#d4d4d4"></div>
<div style="position:absolute;left:485px;top:346px;width:421px;height:1px;background:#d4d4d4"></div>
<div style="position:absolute;left:485px;top:401px;width:421px;height:1px;background:#d4d4d4"></div>
<div style="position:absolute;left:485px;top:523px;width:421px;height:1px;background:#d4d4d4"></div>
<div style="position:absolute;left:485px;top:575px;width:421px;height:1px;background:#d4d4d4"></div>
<div style="position:absolute;left:485px;top:634px;width:421px;height:1px;background:#d4d4d4"></div>
<div style="position:absolute;left:485px;top:686px;width:421px;height:1px;background:#d4d4d4"></div>
<div style="position:absolute;left:4px;top:236px;width:480px;height:1px;background:#c8c8c8"></div>
<div style="position:absolute;left:485px;top:800px;width:146px;height:1px;background:#d4d4d4"></div>
<div style="position:absolute;left:632px;top:839px;width:45px;height:1px;background:#d4d4d4"></div>
<div style="position:absolute;left:863px;top:839px;width:43px;height:1px;background:#d4d4d4"></div>
<div style="position:absolute;left:485px;top:855px;width:192px;height:1px;background:#d4d4d4"></div>
<div style="position:absolute;left:863px;top:855px;width:43px;height:1px;background:#d4d4d4"></div>
<div style="position:absolute;left:677px;top:824px;width:1px;height:54px;background:#d4d4d4"></div>
<div style="position:absolute;left:815px;top:824px;width:1px;height:54px;background:#d4d4d4"></div>
<div style="position:absolute;left:862px;top:824px;width:1px;height:54px;background:#d4d4d4"></div>
<div style="position:absolute;left:532px;top:164px;width:1px;height:7px;background:#e4e4e4"></div>
<div style="position:absolute;left:532px;top:425px;width:1px;height:7px;background:#e4e4e4"></div>
<div style="position:absolute;left:581px;top:164px;width:1px;height:7px;background:#e4e4e4"></div>
<div style="position:absolute;left:581px;top:425px;width:1px;height:7px;background:#e4e4e4"></div>
<div style="position:absolute;left:630px;top:164px;width:1px;height:7px;background:#e4e4e4"></div>
<div style="position:absolute;left:630px;top:425px;width:1px;height:7px;background:#e4e4e4"></div>
<div style="position:absolute;left:679px;top:164px;width:1px;height:7px;background:#e4e4e4"></div>
<div style="position:absolute;left:679px;top:425px;width:1px;height:7px;background:#e4e4e4"></div>
<div style="position:absolute;left:728px;top:164px;width:1px;height:7px;background:#e4e4e4"></div>
<div style="position:absolute;left:728px;top:425px;width:1px;height:7px;background:#e4e4e4"></div>
<div style="position:absolute;left:776px;top:164px;width:1px;height:7px;background:#e4e4e4"></div>
<div style="position:absolute;left:776px;top:425px;width:1px;height:7px;background:#e4e4e4"></div>
<div style="position:absolute;left:822px;top:164px;width:1px;height:7px;background:#e4e4e4"></div>
<div style="position:absolute;left:822px;top:425px;width:1px;height:7px;background:#e4e4e4"></div>
<div style="position:absolute;left:867px;top:164px;width:1px;height:7px;background:#e4e4e4"></div>
<div style="position:absolute;left:867px;top:425px;width:1px;height:7px;background:#e4e4e4"></div>
<div style="position:absolute;left:484px;top:945px;width:1px;height:4px;background:#d0d0d0"></div>
<div style="position:absolute;left:533px;top:945px;width:1px;height:4px;background:#d0d0d0"></div>
<div style="position:absolute;left:582px;top:945px;width:1px;height:4px;background:#d0d0d0"></div>
<div style="position:absolute;left:631px;top:945px;width:1px;height:4px;background:#d0d0d0"></div>
<div style="position:absolute;left:680px;top:945px;width:1px;height:4px;background:#d0d0d0"></div>
<div style="position:absolute;left:729px;top:945px;width:1px;height:4px;background:#d0d0d0"></div>
<div style="position:absolute;left:777px;top:945px;width:1px;height:4px;background:#d0d0d0"></div>
<div style="position:absolute;left:822px;top:945px;width:1px;height:4px;background:#d0d0d0"></div>
<div style="position:absolute;left:867px;top:945px;width:1px;height:4px;background:#d0d0d0"></div>
<div style="position:absolute;left:908px;top:37px;width:3px;height:1px;background:#d8d8d8"></div>
<div style="position:absolute;left:908px;top:204px;width:3px;height:1px;background:#d8d8d8"></div>
<div style="position:absolute;left:908px;top:465px;width:3px;height:1px;background:#d8d8d8"></div>
<div style="position:absolute;left:908px;top:742px;width:3px;height:1px;background:#d8d8d8"></div>
<div style="position:absolute;left:908px;top:911px;width:3px;height:1px;background:#d8d8d8"></div>
<div style="position:absolute;left:908px;top:944px;width:3px;height:1px;background:#d8d8d8"></div>
<div style="position:absolute;left:0px;top:4px;width:2px;height:1px;background:#cfcfcf"></div>
<div style="position:absolute;left:0px;top:37px;width:2px;height:1px;background:#cfcfcf"></div>
<div style="position:absolute;left:0px;top:57px;width:2px;height:1px;background:#cfcfcf"></div>
<div style="position:absolute;left:0px;top:77px;width:2px;height:1px;background:#cfcfcf"></div>
<div style="position:absolute;left:0px;top:100px;width:2px;height:1px;background:#cfcfcf"></div>
<div style="position:absolute;left:0px;top:140px;width:2px;height:1px;background:#cfcfcf"></div>
<div style="position:absolute;left:0px;top:163px;width:2px;height:1px;background:#cfcfcf"></div>
<div style="position:absolute;left:0px;top:171px;width:2px;height:1px;background:#cfcfcf"></div>
<div style="position:absolute;left:0px;top:204px;width:2px;height:1px;background:#cfcfcf"></div>
<div style="position:absolute;left:0px;top:220px;width:2px;height:1px;background:#cfcfcf"></div>
<div style="position:absolute;left:0px;top:236px;width:2px;height:1px;background:#cfcfcf"></div>
<div style="position:absolute;left:0px;top:259px;width:2px;height:1px;background:#cfcfcf"></div>
<div style="position:absolute;left:0px;top:276px;width:2px;height:1px;background:#cfcfcf"></div>
<div style="position:absolute;left:0px;top:291px;width:2px;height:1px;background:#cfcfcf"></div>
<div style="position:absolute;left:0px;top:314px;width:2px;height:1px;background:#cfcfcf"></div>
<div style="position:absolute;left:0px;top:346px;width:2px;height:1px;background:#cfcfcf"></div>
<div style="position:absolute;left:0px;top:369px;width:2px;height:1px;background:#cfcfcf"></div>
<div style="position:absolute;left:0px;top:401px;width:2px;height:1px;background:#cfcfcf"></div>
<div style="position:absolute;left:0px;top:424px;width:2px;height:1px;background:#cfcfcf"></div>
<div style="position:absolute;left:0px;top:432px;width:2px;height:1px;background:#cfcfcf"></div>
<div style="position:absolute;left:0px;top:465px;width:2px;height:1px;background:#cfcfcf"></div>
<div style="position:absolute;left:0px;top:491px;width:2px;height:1px;background:#cfcfcf"></div>
<div style="position:absolute;left:0px;top:523px;width:2px;height:1px;background:#cfcfcf"></div>
<div style="position:absolute;left:0px;top:543px;width:2px;height:1px;background:#cfcfcf"></div>
<div style="position:absolute;left:0px;top:575px;width:2px;height:1px;background:#cfcfcf"></div>
<div style="position:absolute;left:0px;top:598px;width:2px;height:1px;background:#cfcfcf"></div>
<div style="position:absolute;left:0px;top:618px;width:2px;height:1px;background:#cfcfcf"></div>
<div style="position:absolute;left:0px;top:634px;width:2px;height:1px;background:#cfcfcf"></div>
<div style="position:absolute;left:0px;top:654px;width:2px;height:1px;background:#cfcfcf"></div>
<div style="position:absolute;left:0px;top:670px;width:2px;height:1px;background:#cfcfcf"></div>
<div style="position:absolute;left:0px;top:686px;width:2px;height:1px;background:#cfcfcf"></div>
<div style="position:absolute;left:0px;top:703px;width:2px;height:1px;background:#cfcfcf"></div>
<div style="position:absolute;left:0px;top:709px;width:2px;height:1px;background:#cfcfcf"></div>
<div style="position:absolute;left:0px;top:737px;width:2px;height:1px;background:#cfcfcf"></div>
<div style="position:absolute;left:0px;top:742px;width:2px;height:1px;background:#cfcfcf"></div>
<div style="position:absolute;left:0px;top:768px;width:2px;height:1px;background:#cfcfcf"></div>
<div style="position:absolute;left:0px;top:800px;width:2px;height:1px;background:#cfcfcf"></div>
<div style="position:absolute;left:0px;top:823px;width:2px;height:1px;background:#cfcfcf"></div>
<div style="position:absolute;left:0px;top:839px;width:2px;height:1px;background:#cfcfcf"></div>
<div style="position:absolute;left:0px;top:855px;width:2px;height:1px;background:#cfcfcf"></div>
<div style="position:absolute;left:0px;top:878px;width:2px;height:1px;background:#cfcfcf"></div>
<div style="position:absolute;left:0px;top:911px;width:2px;height:1px;background:#cfcfcf"></div>
<div style="position:absolute;left:0px;top:944px;width:2px;height:1px;background:#cfcfcf"></div>
<div style="position:absolute;left:484px;top:37px;width:423px;height:1px;background:#000"></div>
<div style="position:absolute;left:484px;top:100px;width:423px;height:1px;background:#000"></div>
<div style="position:absolute;left:484px;top:163px;width:423px;height:1px;background:#000"></div>
<div style="position:absolute;left:484px;top:171px;width:423px;height:1px;background:#000"></div>
<div style="position:absolute;left:484px;top:204px;width:423px;height:1px;background:#000"></div>
<div style="position:absolute;left:484px;top:259px;width:423px;height:1px;background:#000"></div>
<div style="position:absolute;left:484px;top:314px;width:423px;height:1px;background:#000"></div>
<div style="position:absolute;left:484px;top:369px;width:423px;height:1px;background:#000"></div>
<div style="position:absolute;left:484px;top:424px;width:423px;height:1px;background:#000"></div>
<div style="position:absolute;left:484px;top:432px;width:423px;height:1px;background:#000"></div>
<div style="position:absolute;left:484px;top:465px;width:423px;height:1px;background:#000"></div>
<div style="position:absolute;left:484px;top:491px;width:423px;height:1px;background:#000"></div>
<div style="position:absolute;left:484px;top:543px;width:423px;height:1px;background:#000"></div>
<div style="position:absolute;left:484px;top:598px;width:423px;height:1px;background:#000"></div>
<div style="position:absolute;left:484px;top:654px;width:423px;height:1px;background:#000"></div>
<div style="position:absolute;left:484px;top:709px;width:423px;height:1px;background:#000"></div>
<div style="position:absolute;left:484px;top:742px;width:423px;height:1px;background:#000"></div>
<div style="position:absolute;left:484px;top:768px;width:423px;height:1px;background:#000"></div>
<div style="position:absolute;left:484px;top:823px;width:423px;height:1px;background:#000"></div>
<div style="position:absolute;left:484px;top:878px;width:423px;height:1px;background:#000"></div>
<div style="position:absolute;left:484px;top:911px;width:423px;height:1px;background:#000"></div>
<div style="position:absolute;left:3px;top:4px;width:905px;height:1px;background:#000"></div>
<div style="position:absolute;left:3px;top:944px;width:905px;height:1px;background:#000"></div>
<div style="position:absolute;left:3px;top:0px;width:2px;height:949px;background:#000"></div>
<div style="position:absolute;left:484px;top:4px;width:1px;height:941px;background:#000"></div>
<div style="position:absolute;left:906px;top:0px;width:2px;height:949px;background:#000"></div>
<div style="position:absolute;left:631px;top:37px;width:1px;height:126px;background:#000"></div>
<div style="position:absolute;left:631px;top:204px;width:1px;height:220px;background:#000"></div>
<div style="position:absolute;left:631px;top:465px;width:1px;height:244px;background:#000"></div>
<div style="position:absolute;left:631px;top:742px;width:1px;height:136px;background:#000"></div>
<div style="position:absolute;left:769px;top:465px;width:1px;height:244px;background:#000"></div>
<div style="position:absolute;left:769px;top:742px;width:1px;height:81px;background:#000"></div>
<div style="position:absolute;left:679px;top:507px;width:42px;height:2px;background:#3a3a3a"></div>
<div style="position:absolute;left:818px;top:507px;width:41px;height:2px;background:#3a3a3a"></div>
<div style="position:absolute;left:679px;top:795px;width:42px;height:2px;background:#3a3a3a"></div>
<div style="position:absolute;left:817px;top:795px;width:42px;height:2px;background:#3a3a3a"></div>
<div style="position:absolute;left:726px;top:850px;width:19px;height:2px;background:#3a3a3a"></div>
<div style="position:absolute;left:747px;top:850px;width:19px;height:2px;background:#3a3a3a"></div>
<div style="position:absolute;left:610px;top:928px;width:10px;height:1px;background:#222"></div>
<svg style="position:absolute;left:684px;top:920px" width="22" height="14" viewBox="684 920 22 14"><path d="M686.8 930.2 C688.6 925.6 691.6 924.9 694.6 927.6 C697.6 930.4 700.6 930 702.9 925.6" fill="none" stroke="#1a1a1a" stroke-width="1.25"/></svg>
<svg style="position:absolute;left:495px;top:9px" width="26" height="23" viewBox="0 0 26 23">
<defs><linearGradient id="ig0" x1="0" y1="0" x2="0" y2="1"><stop offset="0" stop-color="#86b9c4"/><stop offset="0.22" stop-color="#6fb2c2"/><stop offset="0.3" stop-color="#1fa3cc"/><stop offset="1" stop-color="#13a8c2"/></linearGradient></defs>
<path d="M5 1.8 H19 Q23.5 1.8 23.5 7 V12.5 Q23.5 21 12.7 21 Q2 21 2 12.5 V7 Q2 1.8 5 1.8Z" fill="url(#ig0)"/>
<path d="M10.6 7.4 L15.2 11.3 L10.6 15.2" fill="none" stroke="#effcff" stroke-width="2.3" stroke-linejoin="round" stroke-linecap="round"/>
</svg>
<svg style="position:absolute;left:495px;top:176px" width="26" height="23" viewBox="0 0 26 23">
<defs><linearGradient id="ig1" x1="0" y1="0" x2="0" y2="1"><stop offset="0" stop-color="#86b9c4"/><stop offset="0.22" stop-color="#6fb2c2"/><stop offset="0.3" stop-color="#1fa3cc"/><stop offset="1" stop-color="#13a8c2"/></linearGradient></defs>
<path d="M5 1.8 H19 Q23.5 1.8 23.5 7 V12.5 Q23.5 21 12.7 21 Q2 21 2 12.5 V7 Q2 1.8 5 1.8Z" fill="url(#ig1)"/>
<path d="M10.6 7.4 L15.2 11.3 L10.6 15.2" fill="none" stroke="#effcff" stroke-width="2.3" stroke-linejoin="round" stroke-linecap="round"/>
</svg>
<svg style="position:absolute;left:495px;top:437px" width="26" height="23" viewBox="0 0 26 23">
<defs><linearGradient id="ig2" x1="0" y1="0" x2="0" y2="1"><stop offset="0" stop-color="#86b9c4"/><stop offset="0.22" stop-color="#6fb2c2"/><stop offset="0.3" stop-color="#1fa3cc"/><stop offset="1" stop-color="#13a8c2"/></linearGradient></defs>
<path d="M5 1.8 H19 Q23.5 1.8 23.5 7 V12.5 Q23.5 21 12.7 21 Q2 21 2 12.5 V7 Q2 1.8 5 1.8Z" fill="url(#ig2)"/>
<path d="M10.6 7.4 L15.2 11.3 L10.6 15.2" fill="none" stroke="#effcff" stroke-width="2.3" stroke-linejoin="round" stroke-linecap="round"/>
</svg>
<svg style="position:absolute;left:495px;top:714px" width="26" height="23" viewBox="0 0 26 23">
<defs><linearGradient id="ig3" x1="0" y1="0" x2="0" y2="1"><stop offset="0" stop-color="#86b9c4"/><stop offset="0.22" stop-color="#6fb2c2"/><stop offset="0.3" stop-color="#1fa3cc"/><stop offset="1" stop-color="#13a8c2"/></linearGradient></defs>
<path d="M5 1.8 H19 Q23.5 1.8 23.5 7 V12.5 Q23.5 21 12.7 21 Q2 21 2 12.5 V7 Q2 1.8 5 1.8Z" fill="url(#ig3)"/>
<path d="M10.6 7.4 L15.2 11.3 L10.6 15.2" fill="none" stroke="#effcff" stroke-width="2.3" stroke-linejoin="round" stroke-linecap="round"/>
</svg>
<svg style="position:absolute;left:495px;top:883px" width="26" height="23" viewBox="0 0 26 23">
<defs><linearGradient id="ig4" x1="0" y1="0" x2="0" y2="1"><stop offset="0" stop-color="#86b9c4"/><stop offset="0.22" stop-color="#6fb2c2"/><stop offset="0.3" stop-color="#1fa3cc"/><stop offset="1" stop-color="#13a8c2"/></linearGradient></defs>
<path d="M5 1.8 H19 Q23.5 1.8 23.5 7 V12.5 Q23.5 21 12.7 21 Q2 21 2 12.5 V7 Q2 1.8 5 1.8Z" fill="url(#ig4)"/>
<path d="M10.6 7.4 L15.2 11.3 L10.6 15.2" fill="none" stroke="#effcff" stroke-width="2.3" stroke-linejoin="round" stroke-linecap="round"/>
</svg>
<div style="position:absolute;white-space:nowrap;line-height:1.6;font-family:'Liberation Mono',monospace;font-size:10.62px;font-weight:normal;color:#2e2e2e;transform:scale(1,1.1719);transform-origin:0 0;left:108.1px;top:398.1px">A=(N+2)*P</div>
<div style="position:absolute;white-space:nowrap;line-height:1.6;font-family:'Liberation Mono',monospace;font-size:10.8px;font-weight:normal;color:#2e2e2e;transform:scale(1,1.2114);transform-origin:0 0;left:107.3px;top:413.9px">B=N*P+10.68</div>
<div style="position:absolute;white-space:nowrap;line-height:1.6;font-family:'Liberation Mono',monospace;font-size:10.43px;font-weight:normal;color:#2e2e2e;transform:scale(1,1.1768);transform-origin:0 0;left:107.4px;top:435.7px">A=(N+1)*P</div>
<div style="position:absolute;white-space:nowrap;line-height:1.6;font-family:'Liberation Mono',monospace;font-size:10.7px;font-weight:normal;color:#2e2e2e;transform:scale(1,1.1332);transform-origin:0 0;left:106.6px;top:452.1px">B=N*P+4.58</div>
<div style="position:absolute;white-space:nowrap;line-height:1.6;font-family:'Liberation Mono',monospace;font-size:10.92px;font-weight:normal;color:#2e2e2e;transform:scale(1,1.2114);transform-origin:0 0;left:352.7px;top:414.2px">3.90</div>
<div style="position:absolute;white-space:nowrap;line-height:1.6;font-family:'Liberation Mono',monospace;font-size:10.92px;font-weight:normal;color:#2e2e2e;transform:scale(1,1.2114);transform-origin:0 0;left:411.9px;top:414.2px">8.30</div>
<div style="position:absolute;white-space:nowrap;line-height:1.6;font-family:'Liberation Mono',monospace;font-size:10.19px;font-weight:normal;color:#2e2e2e;transform:rotate(-90deg) scale(1,1.2681);transform-origin:0 0;left:279.0px;top:563.6px">12.00</div>
<div style="position:absolute;white-space:nowrap;line-height:1.6;font-family:'Liberation Mono',monospace;font-size:10.85px;font-weight:normal;color:#2e2e2e;transform:rotate(-90deg) scale(1,1.1557);transform-origin:0 0;left:311.1px;top:577.7px">2.00</div>
<div style="position:absolute;white-space:nowrap;line-height:1.6;font-family:'Liberation Mono',monospace;font-size:10.85px;font-weight:normal;color:#2e2e2e;transform:rotate(-90deg);transform-origin:0 0;left:355.9px;top:562.9px">SQ1.00</div>
<div style="position:absolute;white-space:nowrap;line-height:1.6;font-family:'Liberation Mono',monospace;font-size:10.84px;font-weight:normal;color:#2e2e2e;transform:scale(1,1.0844);transform-origin:0 0;left:43.1px;top:647.0px">7.60</div>
<div style="position:absolute;white-space:nowrap;line-height:1.6;font-family:'Liberation Mono',monospace;font-size:12.56px;font-weight:normal;color:#2e2e2e;transform:scale(1,0.9187);transform-origin:0 0;left:164.0px;top:612.5px">P</div>
<div style="position:absolute;white-space:nowrap;line-height:1.6;font-family:'Liberation Mono',monospace;font-size:10.44px;font-weight:normal;color:#2e2e2e;transform:scale(1,1.1768);transform-origin:0 0;left:146.2px;top:629.6px">A(5.08)</div>
<div style="position:absolute;white-space:nowrap;line-height:1.6;font-family:'Liberation Mono',monospace;font-size:10.69px;font-weight:normal;color:#2e2e2e;transform:scale(1,1.2518);transform-origin:0 0;left:145.4px;top:645.1px">B(7.62)</div>
<div style="position:absolute;white-space:nowrap;line-height:1.6;font-family:'Liberation Mono',monospace;font-size:11.07px;font-weight:normal;color:#2e2e2e;transform:rotate(-90deg) scale(1,1.1557);transform-origin:0 0;left:283.1px;top:779.6px">2.00</div>
<div style="position:absolute;white-space:nowrap;line-height:1.6;font-family:'Liberation Mono',monospace;font-size:10.38px;font-weight:normal;color:#2e2e2e;transform:rotate(-90deg) scale(1,1.2681);transform-origin:0 0;left:308.8px;top:772.8px">12.00</div>
<div style="position:absolute;white-space:nowrap;line-height:1.6;font-family:'Liberation Mono',monospace;font-size:15.24px;font-weight:normal;color:#2e2e2e;transform:scale(1,0.921);transform-origin:0 0;left:348.4px;top:722.8px">PBC板孔位图</div>
<div style="position:absolute;white-space:nowrap;line-height:1.6;font-family:'Liberation Mono',monospace;font-size:13.28px;font-weight:normal;color:#2e2e2e;transform:scale(1,1.1544);transform-origin:0 0;left:348.6px;top:741.2px">P.C.B LAYOU</div>
<div style="position:absolute;white-space:nowrap;line-height:1.6;font-family:'Liberation Mono',monospace;font-size:10.73px;font-weight:normal;color:#2e2e2e;transform:scale(1,1.1557);transform-origin:0 0;left:42.9px;top:842.8px">7.60</div>
<div style="position:absolute;white-space:nowrap;line-height:1.6;font-family:'Liberation Mono',monospace;font-size:15.05px;font-weight:normal;color:#2e2e2e;transform:scale(1,0.7689);transform-origin:0 0;left:165.6px;top:809.5px">P</div>
<div style="position:absolute;white-space:nowrap;line-height:1.6;font-family:'Liberation Mono',monospace;font-size:10.47px;font-weight:normal;color:#2e2e2e;transform:scale(1,1.1333);transform-origin:0 0;left:149.1px;top:827.3px">A(5.08)</div>
<div style="position:absolute;white-space:nowrap;line-height:1.6;font-family:'Liberation Mono',monospace;font-size:10.57px;font-weight:normal;color:#2e2e2e;transform:scale(1,1.1557);transform-origin:0 0;left:148.7px;top:841.8px">B(7.62)</div>
<div style="position:absolute;white-space:nowrap;line-height:1.6;font-family:'Liberation Mono',monospace;font-size:10.81px;font-weight:normal;color:#2e2e2e;transform:scale(1,1.1768);transform-origin:0 0;left:122.8px;top:870.5px">A=(N+2)*P</div>
<div style="position:absolute;white-space:nowrap;line-height:1.6;font-family:'Liberation Mono',monospace;font-size:10.81px;font-weight:normal;color:#2e2e2e;transform:scale(1,1.1768);transform-origin:0 0;left:122.4px;top:886.3px">B=N*P+10.68</div>
<div style="position:absolute;white-space:nowrap;line-height:1.6;font-family:'Liberation Sans',sans-serif;font-size:21.15px;font-weight:normal;color:#000;-webkit-text-stroke:0.55px #000;transform:scale(1,0.847);transform-origin:0 0;left:539.2px;top:7.0px">外观参数</div>
<div style="position:absolute;white-space:nowrap;line-height:1.6;font-family:'Liberation Mono',monospace;font-size:16px;font-weight:bold;color:#000;letter-spacing:0.273px;left:636.4px;top:11.2px">(Appearance parameter)</div>
<div style="position:absolute;white-space:nowrap;line-height:1.6;font-family:'Liberation Sans',sans-serif;font-size:21.15px;font-weight:normal;color:#000;-webkit-text-stroke:0.55px #000;transform:scale(1,0.847);transform-origin:0 0;left:538.7px;top:174.0px">材料信息</div>
<div style="position:absolute;white-space:nowrap;line-height:1.6;font-family:'Liberation Mono',monospace;font-size:16px;font-weight:bold;color:#000;letter-spacing:0.167px;left:636.4px;top:178.2px">(Material)</div>
<div style="position:absolute;white-space:nowrap;line-height:1.6;font-family:'Liberation Sans',sans-serif;font-size:21.4px;font-weight:normal;color:#000;-webkit-text-stroke:0.55px #000;transform:scale(1,0.8498);transform-origin:0 0;left:539.1px;top:435.0px">电气参数</div>
<div style="position:absolute;white-space:nowrap;line-height:1.6;font-family:'Liberation Mono',monospace;font-size:16px;font-weight:bold;color:#000;letter-spacing:0.306px;left:636.4px;top:439.2px">(Electrical parameters)</div>
<div style="position:absolute;white-space:nowrap;line-height:1.6;font-family:'Liberation Sans',sans-serif;font-size:21.15px;font-weight:normal;color:#000;-webkit-text-stroke:0.55px #000;transform:scale(1,0.847);transform-origin:0 0;left:538.7px;top:712.0px">机械性能</div>
<div style="position:absolute;white-space:nowrap;line-height:1.6;font-family:'Liberation Mono',monospace;font-size:16px;font-weight:bold;color:#000;letter-spacing:0.089px;left:636.4px;top:716.2px">(Mechanical)</div>
<div style="position:absolute;white-space:nowrap;line-height:1.6;font-family:'Liberation Sans',sans-serif;font-size:21.65px;font-weight:normal;color:#000;-webkit-text-stroke:0.55px #000;transform:scale(1,0.8498);transform-origin:0 0;left:538.7px;top:881.0px">环境温度</div>
<div style="position:absolute;white-space:nowrap;line-height:1.6;font-family:'Liberation Mono',monospace;font-size:16px;font-weight:bold;color:#000;letter-spacing:0.306px;left:636.4px;top:885.2px">(Operation temperature)</div>
<div style="position:absolute;white-space:nowrap;line-height:1.6;font-family:'Liberation Sans',sans-serif;font-size:21.56px;font-weight:normal;color:#000;transform:scale(1,0.8901);transform-origin:0 0;left:514.3px;top:43.6px">产品间距</div>
<div style="position:absolute;white-space:nowrap;line-height:1.6;font-family:'Liberation Serif',serif;font-size:17.91px;font-weight:normal;color:#000;left:539.3px;top:76.9px">Pitch</div>
<div style="position:absolute;white-space:nowrap;line-height:1.6;font-family:'Liberation Serif',serif;font-size:20.3px;font-weight:normal;color:#000;left:634.3px;top:41.1px">A</div>
<div style="position:absolute;white-space:nowrap;line-height:1.6;font-family:'Liberation Serif',serif;font-size:21.51px;font-weight:normal;color:#000;left:662.9px;top:40.1px">P=5.08mm</div>
<div style="position:absolute;white-space:nowrap;line-height:1.6;font-family:'Liberation Serif',serif;font-size:20.3px;font-weight:normal;color:#000;left:634.1px;top:74.0px">B</div>
<div style="position:absolute;white-space:nowrap;line-height:1.6;font-family:'Liberation Serif',serif;font-size:21.44px;font-weight:normal;color:#000;left:662.9px;top:73.0px">P= 7.62mm</div>
<div style="position:absolute;white-space:nowrap;line-height:1.6;font-family:'Liberation Sans',sans-serif;font-size:21.14px;font-weight:normal;color:#000;transform:scale(1,0.9072);transform-origin:0 0;left:517.0px;top:107.1px">长度计算</div>
<div style="position:absolute;white-space:nowrap;line-height:1.6;font-family:'Liberation Serif',serif;font-size:16.81px;font-weight:normal;color:#000;left:505.4px;top:139.4px">Length account</div>
<div style="position:absolute;white-space:nowrap;line-height:1.6;font-family:'Liberation Serif',serif;font-size:19.56px;font-weight:normal;color:#000;left:634.5px;top:104.2px">A</div>
<div style="position:absolute;white-space:nowrap;line-height:1.6;font-family:'Liberation Serif',serif;font-size:21.2px;font-weight:normal;color:#000;left:662.9px;top:104.2px">P=5.08&nbsp;&nbsp;L=(P+2)*pole</div>
<div style="position:absolute;white-space:nowrap;line-height:1.6;font-family:'Liberation Serif',serif;font-size:19.56px;font-weight:normal;color:#000;left:634.1px;top:137.7px">B</div>
<div style="position:absolute;white-space:nowrap;line-height:1.6;font-family:'Liberation Serif',serif;font-size:21.28px;font-weight:normal;color:#000;left:662.9px;top:136.7px">P=7.62&nbsp;&nbsp;L=P*pole+10.68</div>
<div style="position:absolute;white-space:nowrap;line-height:1.6;font-family:'Liberation Sans',sans-serif;font-size:22.38px;font-weight:normal;color:#000;transform:scale(1,0.9261);transform-origin:0 0;left:535.3px;top:205.7px">外壳</div>
<div style="position:absolute;white-space:nowrap;line-height:1.6;font-family:'Liberation Serif',serif;font-size:17.51px;font-weight:normal;color:#000;left:540.4px;top:232.9px">Case</div>
<div style="position:absolute;white-space:nowrap;line-height:1.6;font-family:'Liberation Serif',serif;font-size:21.59px;font-weight:normal;color:#000;left:699.1px;top:201.7px">PA66 UL94 V-0</div>
<div style="position:absolute;white-space:nowrap;line-height:1.6;font-family:'Liberation Sans',sans-serif;font-size:21.4px;font-weight:normal;color:#000;transform:scale(1,0.7962);transform-origin:0 0;left:524.9px;top:261.9px">导电件</div>
<div style="position:absolute;white-space:nowrap;line-height:1.6;font-family:'Liberation Serif',serif;font-size:16.98px;font-weight:normal;color:#000;left:521.8px;top:289.7px">Conductor</div>
<div style="position:absolute;white-space:nowrap;line-height:1.6;font-family:'Liberation Sans',sans-serif;font-size:20.78px;font-weight:normal;color:#000;transform:scale(1,0.8256);transform-origin:0 0;left:721.4px;top:260.9px">黄铜, 镀锡</div>
<div style="position:absolute;white-space:nowrap;line-height:1.6;font-family:'Liberation Serif',serif;font-size:16.87px;font-weight:normal;color:#000;left:707.6px;top:289.7px">Brass，Tin plated</div>
<div style="position:absolute;white-space:nowrap;line-height:1.6;font-family:'Liberation Mono',monospace;font-size:17.82px;font-weight:normal;color:#000;transform:scale(1,1.0845);transform-origin:0 0;left:504.9px;top:464.3px">项目（Item）</div>
<div style="position:absolute;white-space:nowrap;line-height:1.6;font-family:'Liberation Mono',monospace;font-size:16.59px;font-weight:bold;color:#000;left:685.9px;top:468.3px">IEC</div>
<div style="position:absolute;white-space:nowrap;line-height:1.6;font-family:'Liberation Mono',monospace;font-size:15.79px;font-weight:bold;color:#000;left:827.7px;top:469.3px">UL</div>
<div style="position:absolute;white-space:nowrap;line-height:1.6;font-family:'Liberation Sans',sans-serif;font-size:21.03px;font-weight:normal;color:#000;transform:scale(1,0.8917);transform-origin:0 0;left:515.7px;top:494.1px">导线容量</div>
<div style="position:absolute;white-space:nowrap;line-height:1.6;font-family:'Liberation Serif',serif;font-size:17.34px;font-weight:normal;color:#000;left:519.6px;top:519.9px">Wire range</div>
<div style="position:absolute;white-space:nowrap;line-height:1.6;font-family:'Liberation Sans',sans-serif;font-size:20.52px;font-weight:normal;color:#000;transform:scale(1,0.8919);transform-origin:0 0;left:515.7px;top:544.5px">额定电压</div>
<div style="position:absolute;white-space:nowrap;line-height:1.6;font-family:'Liberation Serif',serif;font-size:22.16px;font-weight:normal;color:#000;left:673.2px;top:541.4px">300 V</div>
<div style="position:absolute;white-space:nowrap;line-height:1.6;font-family:'Liberation Serif',serif;font-size:21.95px;font-weight:normal;color:#000;left:811.2px;top:540.4px">300 V</div>
<div style="position:absolute;white-space:nowrap;line-height:1.6;font-family:'Liberation Serif',serif;font-size:16.68px;font-weight:normal;color:#000;left:511.1px;top:574.4px">Rated voltage</div>
<div style="position:absolute;white-space:nowrap;line-height:1.6;font-family:'Liberation Sans',sans-serif;font-size:20.71px;font-weight:normal;color:#000;transform:scale(1,0.9035);transform-origin:0 0;left:515.7px;top:601.9px">额定电流</div>
<div style="position:absolute;white-space:nowrap;line-height:1.6;font-family:'Liberation Serif',serif;font-size:20.96px;font-weight:normal;color:#000;left:681.6px;top:599.9px">15A</div>
<div style="position:absolute;white-space:nowrap;line-height:1.6;font-family:'Liberation Serif',serif;font-size:19.93px;font-weight:normal;color:#000;left:814.9px;top:600.9px">10&nbsp;&nbsp;A</div>
<div style="position:absolute;white-space:nowrap;line-height:1.6;font-family:'Liberation Serif',serif;font-size:16.73px;font-weight:normal;color:#000;left:510.1px;top:632.3px">Current rating</div>
<div style="position:absolute;white-space:nowrap;line-height:1.6;font-family:'Liberation Sans',sans-serif;font-size:21.03px;font-weight:normal;color:#000;transform:scale(1,0.9993);transform-origin:0 0;left:515.7px;top:655.7px">耐压电压</div>
<div style="position:absolute;white-space:nowrap;line-height:1.6;font-family:'Liberation Serif',serif;font-size:21.5px;font-weight:normal;color:#000;left:639.8px;top:652.7px">2500V / 1min</div>
<div style="position:absolute;white-space:nowrap;line-height:1.6;font-family:'Liberation Serif',serif;font-size:21.42px;font-weight:normal;color:#000;left:778.1px;top:652.7px">1600V / 1min</div>
<div style="position:absolute;white-space:nowrap;line-height:1.6;font-family:'Liberation Serif',serif;font-size:16.87px;font-weight:normal;color:#000;left:496.3px;top:685.1px">Withstand voltage</div>
<div style="position:absolute;white-space:nowrap;line-height:1.6;font-family:'Liberation Mono',monospace;font-size:17.94px;font-weight:normal;color:#000;left:504.9px;top:744.3px">项目（Item）</div>
<div style="position:absolute;white-space:nowrap;line-height:1.6;font-family:'Liberation Mono',monospace;font-size:16.59px;font-weight:bold;color:#000;left:685.9px;top:745.6px">IEC</div>
<div style="position:absolute;white-space:nowrap;line-height:1.6;font-family:'Liberation Mono',monospace;font-size:16.69px;font-weight:bold;color:#000;left:826.8px;top:745.6px">UL</div>
<div style="position:absolute;white-space:nowrap;line-height:1.6;font-family:'Liberation Sans',sans-serif;font-size:20.27px;font-weight:normal;color:#000;transform:scale(1,0.8669);transform-origin:0 0;left:516.7px;top:772.3px">螺钉扭矩</div>
<div style="position:absolute;white-space:nowrap;line-height:1.6;font-family:'Liberation Serif',serif;font-size:16.9px;font-weight:normal;color:#000;left:515.9px;top:798.3px">Max Torque</div>
<div style="position:absolute;white-space:nowrap;line-height:1.6;font-family:'Liberation Sans',sans-serif;font-size:21.04px;font-weight:normal;color:#000;transform:scale(1,0.9208);transform-origin:0 0;left:516.7px;top:825.9px">剥线长度</div>
<div style="position:absolute;white-space:nowrap;line-height:1.6;font-family:'Liberation Serif',serif;font-size:17.27px;font-weight:normal;color:#000;left:516.6px;top:853.5px">Strip length</div>
<div style="position:absolute;white-space:nowrap;line-height:1.6;font-family:'Liberation Serif',serif;font-size:14.83px;font-weight:normal;color:#000;transform:scale(1,1.2886);transform-origin:0 0;left:825.7px;top:837.4px">mm</div>
<div style="position:absolute;white-space:nowrap;line-height:1.6;font-family:'Liberation Serif',serif;font-size:20.56px;font-weight:normal;color:#000;transform:scale(1,0.9529);transform-origin:0 0;left:632.1px;top:913.3px">33℃</div>
<div style="position:absolute;white-space:nowrap;line-height:1.6;font-family:'Liberation Serif',serif;font-size:20.59px;font-weight:normal;color:#000;transform:scale(1,0.9529);transform-origin:0 0;left:718.0px;top:913.3px">+105℃</div>
</body></html>
